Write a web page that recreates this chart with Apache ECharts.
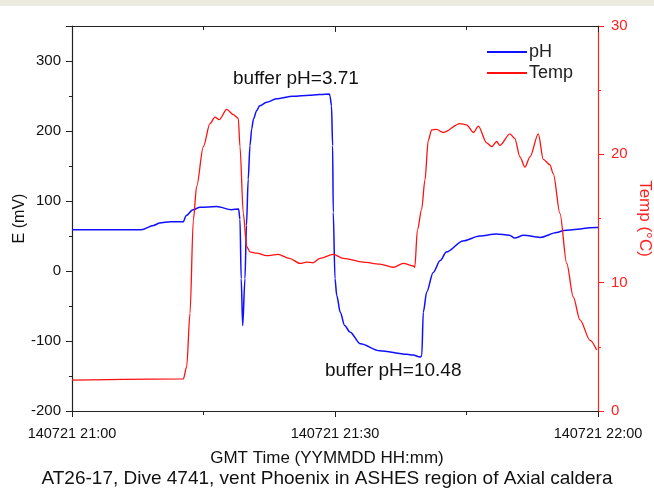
<!DOCTYPE html>
<html>
<head>
<meta charset="utf-8">
<script src="https://cdn.jsdelivr.net/npm/echarts@6/dist/echarts.min.js"></script>
<style>
html,body{margin:0;padding:0;background:#fff;}
#c{width:654px;height:491px;}
</style>
</head>
<body>
<div id="c"></div>
<script>
// time in minutes after 140721 21:00
var phTime = [0, 7.9, 9.3, 10.0, 11.2, 12.7, 13.0, 13.8, 14.6, 16.5, 18.2, 19.0, 19.16, 19.3, 19.47, 19.73, 19.9, 20.1, 20.3, 20.5, 20.7, 21.06, 21.4, 22.2, 23.3, 25.2, 27.1, 29.35, 29.43, 29.6, 29.73, 29.8, 30.0, 30.2, 30.6, 31.1, 31.7, 32.9, 35.1, 38.2, 38.9, 39.7, 39.9, 40.07, 40.46, 41.2, 42.0, 42.7, 44.6, 46.5, 48.4, 49.9, 50.5, 51.5, 53.4, 55.3, 56.1, 59.8, 60];
var phE = [59, 59, 65, 68.6, 70.5, 70.5, 79, 87.6, 91, 92, 87.6, 88.6, 74, -11, -78, -11, 65, 131, 179, 203, 217, 229, 236, 241, 246, 249.5, 251, 253, 250, 236, 179, 84, -11, -35, -59, -78, -87, -104, -114, -119, -120, -123, -121, -59, -30, -2, 15, 27, 43, 50, 53, 51, 47, 51, 48, 55, 58, 62, 62];

var tempTime = [0, 12.7, 13.08, 13.46, 13.84, 14.22, 14.98, 15.74, 16.31, 16.8, 17.65, 18.4, 18.97, 19.16, 19.54, 19.93, 20.3, 21.06, 22.2, 23.5, 24.8, 26.0, 26.77, 27.5, 28.29, 29.8, 30.95, 33.2, 35.1, 36.65, 37.8, 38.93, 39.1, 39.4, 39.88, 40.26, 40.64, 41.02, 41.6, 42.35, 44.25, 45.0, 45.8, 46.35, 47.3, 47.87, 48.44, 48.8, 49.96, 50.5, 51.1, 51.67, 52.24, 53.19, 53.76, 54.5, 54.9, 55.66, 56.43, 57.18, 57.94, 59.1, 59.85];
var tempC = [2.4, 2.5, 3.45, 7.6, 14.9, 17.5, 20.6, 22.4, 22.9, 22.7, 23.5, 23.1, 22.8, 20.6, 15.4, 12.8, 12.4, 12.3, 12.1, 12.2, 11.9, 11.5, 11.6, 11.55, 11.9, 12.2, 11.9, 11.6, 11.45, 11.2, 11.5, 11.3, 11.2, 14.1, 15.7, 18.0, 21.1, 21.9, 21.95, 21.7, 22.4, 22.3, 21.7, 22.2, 20.9, 20.6, 21.0, 20.7, 21.6, 21.25, 19.8, 19.0, 19.8, 21.6, 19.6, 19.2, 18.5, 15.4, 11.5, 8.9, 7.1, 5.5, 4.75];

var xTicks = {0: '140721 21:00', 30: '140721 21:30', 60: '140721 22:00'};

function zip(a, b) { return a.map(function (v, i) { return [v, b[i]]; }); }

var chart = echarts.init(document.getElementById('c'));
var font = 'Liberation Sans, Arial, sans-serif';
var red = '#ff2020';
chart.setOption({
  animation: false,
  backgroundColor: '#fff',
  textStyle: { fontFamily: font },
  grid: { left: 72, right: 56, top: 26, bottom: 80, containLabel: false, outerBoundsMode: 'none' },
  title: {
    text: 'GMT Time (YYMMDD HH:mm)',
    subtext: 'AT26-17, Dive 4741, vent Phoenix in ASHES region of Axial caldera',
    left: 'center', top: 450, itemGap: 2, padding: 0,
    textStyle: { fontFamily: font, fontSize: 17, fontWeight: 'normal', color: '#111' },
    subtextStyle: { fontFamily: font, fontSize: 19, color: '#111' }
  },
  legend: {
    orient: 'vertical', left: 487, top: 43, itemGap: 3, padding: 0,
    itemWidth: 40, itemHeight: 2, icon: 'rect',
    textStyle: { fontFamily: font, fontSize: 18, color: '#222', padding: [0, 0, 0, -3] },
    data: ['pH', 'Temp']
  },
  graphic: [
    { type: 'rect', shape: { x: 0, y: 0, width: 654, height: 6 }, style: { fill: '#ece9df' }, silent: true },
    { type: 'text', left: 233, top: 69, style: { text: 'buffer pH=3.71', font: '19px Liberation Sans, Arial, sans-serif', fill: '#111' } },
    { type: 'text', left: 325, top: 361, style: { text: 'buffer pH=10.48', font: '19px Liberation Sans, Arial, sans-serif', fill: '#111' } }
  ],
  xAxis: [{
    type: 'value', min: 0, max: 60, interval: 30,
    axisLine: { onZero: false, lineStyle: { color: '#222', width: 1.2 } },
    axisTick: { show: true, length: 6, lineStyle: { color: '#222' } },
    minorTick: { show: true, splitNumber: 2, length: 4, lineStyle: { color: '#222' } },
    splitLine: { show: false },
    axisLabel: { fontSize: 14.5, color: '#111', margin: 15, formatter: function (v) { return xTicks[v] || ''; } }
  }, {
    type: 'value', min: 0, max: 60, interval: 30, position: 'top',
    axisLine: { onZero: false, lineStyle: { color: '#222', width: 1.2 } },
    axisTick: { show: true, inside: true, length: 6, lineStyle: { color: '#222' } },
    minorTick: { show: true, splitNumber: 2, length: 4, lineStyle: { color: '#222' } },
    splitLine: { show: false },
    axisLabel: { show: false }
  }],
  yAxis: [{
    type: 'value', min: -200, max: 350, interval: 100, position: 'left',
    name: 'E (mV)', nameLocation: 'middle', nameGap: 44, nameMoveOverlap: false,
    nameTextStyle: { fontSize: 16, color: '#111', fontFamily: font },
    axisLine: { show: true, onZero: false, lineStyle: { color: '#222', width: 1.2 } },
    axisTick: { show: true, length: 6, lineStyle: { color: '#222' } },
    minorTick: { show: true, splitNumber: 2, length: 3, lineStyle: { color: '#222' } },
    splitLine: { show: false },
    axisLabel: { fontSize: 15, color: '#111', margin: 11, showMaxLabel: false }
  }, {
    type: 'value', min: 0, max: 30, interval: 10, position: 'right',
    name: 'Temp (°C)', nameLocation: 'middle', nameGap: 38, nameRotate: -90, nameMoveOverlap: false,
    nameTextStyle: { fontSize: 17, color: red, fontFamily: font },
    axisLine: { show: true, onZero: false, lineStyle: { color: red, width: 1.2 } },
    axisTick: { show: true, length: 6, lineStyle: { color: red } },
    minorTick: { show: true, splitNumber: 2, length: 3, lineStyle: { color: red } },
    splitLine: { show: false },
    axisLabel: { fontSize: 15, color: red, margin: 13 }
  }],
  series: [{
    name: 'pH', type: 'line', xAxisIndex: 0, yAxisIndex: 0,
    data: zip(phTime, phE), symbol: 'none', smooth: 0.3, smoothMonotone: 'x',
    lineStyle: { color: '#1010ff', width: 1.5 }, itemStyle: { color: '#1010ff' }
  }, {
    name: 'Temp', type: 'line', xAxisIndex: 0, yAxisIndex: 1,
    data: zip(tempTime, tempC), symbol: 'none', smooth: 0.3, smoothMonotone: 'x',
    lineStyle: { color: '#ff1010', width: 1.3 }, itemStyle: { color: '#ff1010' }
  }]
});
</script>
</body>
</html>
